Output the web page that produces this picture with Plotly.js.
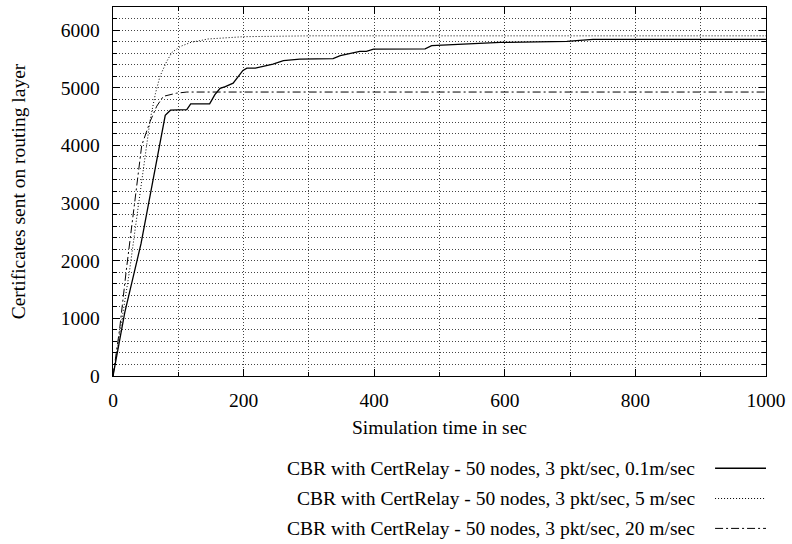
<!DOCTYPE html>
<html>
<head>
<meta charset="utf-8">
<script src="https://cdn.plot.ly/plotly-3.0.1.min.js"></script>
<style>html,body{margin:0;padding:0;background:#fff;}#chart{width:792px;height:544px;}</style>
</head>
<body>
<div id="chart"></div>
<script>
// Series names
const seriesNames = [
  "CBR with CertRelay - 50 nodes, 3 pkt/sec, 0.1m/sec",
  "CBR with CertRelay - 50 nodes, 3 pkt/sec, 5 m/sec",
  "CBR with CertRelay - 50 nodes, 3 pkt/sec, 20 m/sec"
];
// 0.1 m/sec (solid)
const slowX = [0, 18, 43, 59, 72, 80, 88, 113, 119, 148, 156, 164, 172, 184, 199, 205, 218, 245, 261, 286, 337, 348, 378, 388, 399, 478, 488, 593, 695, 735, 1000];
const slowY = [0, 1100, 2300, 3250, 4080, 4520, 4610, 4620, 4720, 4720, 4880, 4990, 5020, 5080, 5300, 5340, 5340, 5410, 5470, 5495, 5505, 5555, 5630, 5630, 5670, 5675, 5730, 5785, 5805, 5840, 5840];
// 5 m/sec (dotted)
const midX = [0, 10, 25, 40, 50, 57, 65, 72, 82, 90, 103, 120, 135, 145, 200, 300, 1000];
const midY = [0, 700, 1800, 3050, 3900, 4450, 4900, 5200, 5450, 5610, 5715, 5790, 5820, 5845, 5885, 5900, 5900];
// 20 m/sec (dash-dot)
const fastX = [0, 10, 20, 34, 44, 57, 67, 77, 97, 113, 1000];
const fastY = [0, 800, 1800, 3050, 4000, 4420, 4680, 4850, 4905, 4925, 4925];

const xTitle = "Simulation time in sec";
const yTitle = "Certificates sent on routing layer";

const FONT = "Liberation Serif, Times New Roman, serif";
const FS = 19.5;
const dashes = ["solid", "1px,2px", "8px,3px,2px,3px"];
const widths = [1.3, 1, 1];

const xs = [slowX, midX, fastX];
const ys = [slowY, midY, fastY];
const traces = xs.map((x, i) => ({
  x: x, y: ys[i], type: "scatter", mode: "lines", name: seriesNames[i],
  line: {color: "#000", width: widths[i], dash: dashes[i]},
  showlegend: false, hoverinfo: "skip"
}));

// Legend built from annotations and line shapes
const legY = [-0.250, -0.332, -0.413];
const annotations = seriesNames.map((n, i) => ({
  text: n, xref: "paper", yref: "paper", x: 0.895, y: legY[i],
  xanchor: "right", yanchor: "middle", showarrow: false,
  font: {family: FONT, size: FS, color: "#000"}
}));
const shapes = seriesNames.map((n, i) => ({
  type: "line", xref: "paper", yref: "paper", x0: 0.922, x1: 1.0, y0: legY[i], y1: legY[i],
  line: {color: "#000", width: widths[i], dash: dashes[i]}
}));

const GRID = "#444";
const GDASH = "1px,2px";
const layout = {
  width: 792, height: 544,
  margin: {l: 113, r: 26, t: 7, b: 167.5},
  paper_bgcolor: "#fff", plot_bgcolor: "#fff",
  font: {family: FONT, size: FS, color: "#000"},
  xaxis: {
    range: [0, 1000], dtick: 200, tick0: 0, ticks: "inside", ticklen: 7, tickwidth: 1, tickcolor: "#000",
    mirror: "ticks", showline: true, linecolor: "#000", linewidth: 1.3, zeroline: false,
    showgrid: true, gridcolor: GRID, gridwidth: 1, griddash: GDASH,
    ticklabelstandoff: 6,
    minor: {dtick: 100, ticks: "inside", ticklen: 4, tickcolor: "#000", showgrid: true, gridcolor: GRID, griddash: GDASH, gridwidth: 1},
    title: {text: xTitle, font: {family: FONT, size: FS}, standoff: 10},
    tickfont: {family: FONT, size: FS}, automargin: false
  },
  yaxis: {
    range: [0, 6400], dtick: 1000, tick0: 0, ticks: "inside", ticklen: 7, tickwidth: 1, tickcolor: "#000",
    mirror: "ticks", showline: true, linecolor: "#000", linewidth: 1.3, zeroline: false,
    showgrid: true, gridcolor: GRID, gridwidth: 1, griddash: GDASH,
    ticklabelstandoff: 8,
    minor: {dtick: 200, ticks: "inside", ticklen: 4, tickcolor: "#000", showgrid: true, gridcolor: GRID, griddash: GDASH, gridwidth: 1},
    title: {text: yTitle, font: {family: FONT, size: FS}, standoff: 30},
    tickfont: {family: FONT, size: FS}, automargin: false
  },
  annotations: annotations,
  shapes: shapes
};

Plotly.newPlot("chart", traces, layout, {staticPlot: true, displayModeBar: false});
</script>
</body>
</html>
